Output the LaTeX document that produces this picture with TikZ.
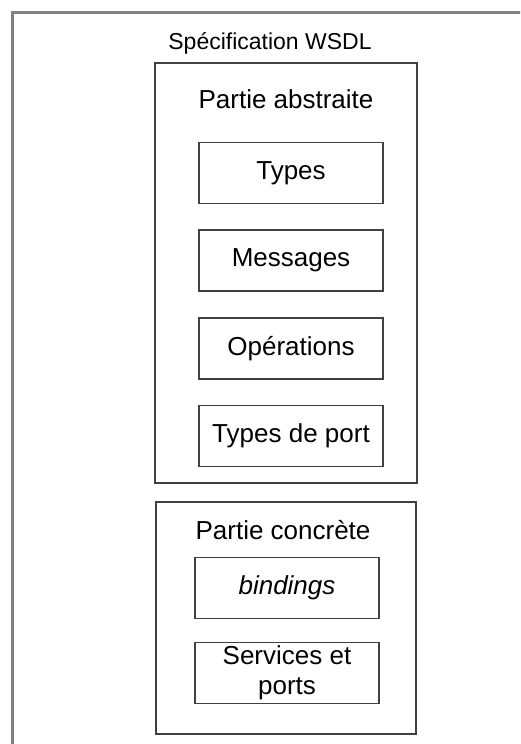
\documentclass[tikz,border=0pt]{standalone}
\usepackage{fontspec}
\setmainfont{Liberation Sans}
\usetikzlibrary{positioning}

\begin{document}
\begin{tikzpicture}[x=1pt, y=-1pt,
                    every node/.style={font=\fontsize{26}{30}\selectfont, align=center, inner sep=0pt},
                    part/.style={draw=black!75, line width=1.6pt},
                    item/.style={draw=black!75, line width=1.6pt, minimum width=184pt, minimum height=61pt},
                    node distance=25pt]

    \useasboundingbox (0,0) rectangle (520,744);
    \clip (0,0) rectangle (520,744);

    % Outer frame
    \draw[draw=black!50, line width=3pt] (12,12) rectangle (560,780);
    \node (wsdl) at (270,43) {\fontsize{23}{27}\selectfont Spécification WSDL};

    % Abstract part
    \node[part, minimum width=262pt, minimum height=420pt] (abstract) at (286,273) {};
    \node (abstitle) at (286,99) {Partie abstraite};
    \node[item] (types) at (291,173) {Types};
    \node[item, below=of types] (messages) {Messages};
    \node[item, below=of messages] (operations) {Opérations};
    \node[item, below=of operations] (porttypes) {Types de port};

    % Concrete part
    \node[part, minimum width=260pt, minimum height=232pt] (concrete) at (286,618) {};
    \node (contitle) at (283,530) {Partie concrète};
    \node[item] (bindings) at (287,588) {\textit{bindings}};
    \node[item, below=22.5pt of bindings] (services) {Services et\\ports};

\end{tikzpicture}
\end{document}
